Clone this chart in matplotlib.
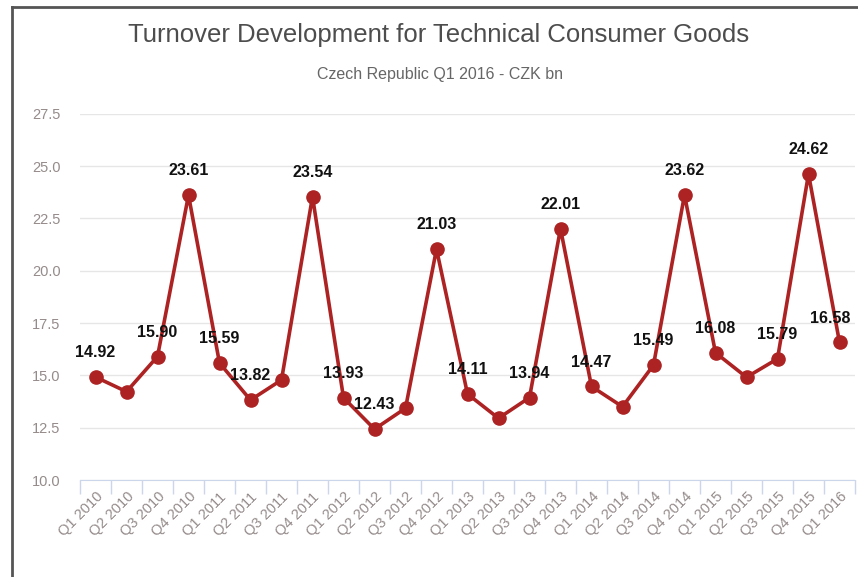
import matplotlib
matplotlib.use("Agg")
import matplotlib.pyplot as plt
from matplotlib.lines import Line2D

categories = ["Q1 2010", "Q2 2010", "Q3 2010", "Q4 2010",
              "Q1 2011", "Q2 2011", "Q3 2011", "Q4 2011",
              "Q1 2012", "Q2 2012", "Q3 2012", "Q4 2012",
              "Q1 2013", "Q2 2013", "Q3 2013", "Q4 2013",
              "Q1 2014", "Q2 2014", "Q3 2014", "Q4 2014",
              "Q1 2015", "Q2 2015", "Q3 2015", "Q4 2015",
              "Q1 2016"]
values = [14.92, 14.22, 15.90, 23.61,
          15.59, 13.82, 14.78, 23.54,
          13.93, 12.43, 13.43, 21.03,
          14.11, 12.95, 13.94, 22.01,
          14.47, 13.50, 15.49, 23.62,
          16.08, 14.91, 15.79, 24.62,
          16.58]
shown_labels = [True, False, True, True,
                True, True, False, True,
                True, True, False, True,
                True, False, True, True,
                True, False, True, True,
                True, False, True, True,
                True]
yticks = [10.0, 12.5, 15.0, 17.5, 20.0, 22.5, 25.0, 27.5]

title = "Turnover Development for Technical Consumer Goods"
subtitle = "Czech Republic Q1 2016 - CZK bn"

plt.rcParams['font.family'] = ['Liberation Sans', 'DejaVu Sans']

W, H = 858, 577
fig = plt.figure(figsize=(W / 100, H / 100), dpi=100)
fig.patch.set_facecolor("white")

left, right = 80 / W, 855 / W
bottom, top = 1 - 480 / H, 1 - 113.7 / H
ax = fig.add_axes([left, bottom, right - left, top - bottom])

x = list(range(len(categories)))
line_color = "#AD2222"
ax.plot(x, values, color=line_color, lw=2.6, marker="o", ms=9.5,
        markeredgecolor=line_color, markerfacecolor=line_color, zorder=3,
        clip_on=False)

n = len(categories)
for xi, v, show in zip(x, values, shown_labels):
    if show:
        dx = -7 if xi == n - 1 else 0  # keep last label inside the chart
        ax.annotate(f"{v:.2f}", (xi, v), xytext=(dx, 12), textcoords="offset points",
                    ha="center", va="bottom", fontsize=11.5, fontweight="bold",
                    color="#111111", zorder=4)

ax.set_xlim(-0.5, n - 0.5)
ax.set_ylim(10, 27.5)
ax.set_yticks(yticks)
ax.set_yticklabels([f"{t:.1f}" for t in yticks], fontsize=10.5, color="#958b8b")
ax.grid(axis="y", color="#e6e6e6", lw=1)
ax.set_axisbelow(True)

ax.set_xticks(x)
ax.set_xticklabels(categories, rotation=45, ha="right", rotation_mode="anchor",
                   fontsize=10.5, color="#958b8b")
ax.tick_params(axis="x", length=0, pad=7)
ax.tick_params(axis="y", length=0, pad=14)
# category boundary ticks
ax.set_xticks([i - 0.5 for i in range(n + 1)], minor=True)
ax.tick_params(axis="x", which="minor", length=10, color="#ccd6eb", width=1)

for s in ["top", "right", "left"]:
    ax.spines[s].set_visible(False)
ax.spines["bottom"].set_color("#ccd6eb")

fig.text(439 / W, 1 - 35 / H, title, ha="center", va="center", fontsize=18.5,
         color="#4d4d4d")
fig.text(440 / W, 1 - 75 / H, subtitle, ha="center", va="center", fontsize=11.5,
         color="#666666")

# outer frame (left and top)
fig.add_artist(Line2D([12 / W, 12 / W], [0, 1 - 7 / H], transform=fig.transFigure,
                      color="#555555", lw=2))
fig.add_artist(Line2D([12 / W, 1], [1 - 7 / H, 1 - 7 / H], transform=fig.transFigure,
                      color="#555555", lw=2))

fig.savefig("out.png", dpi=100, facecolor="white")
